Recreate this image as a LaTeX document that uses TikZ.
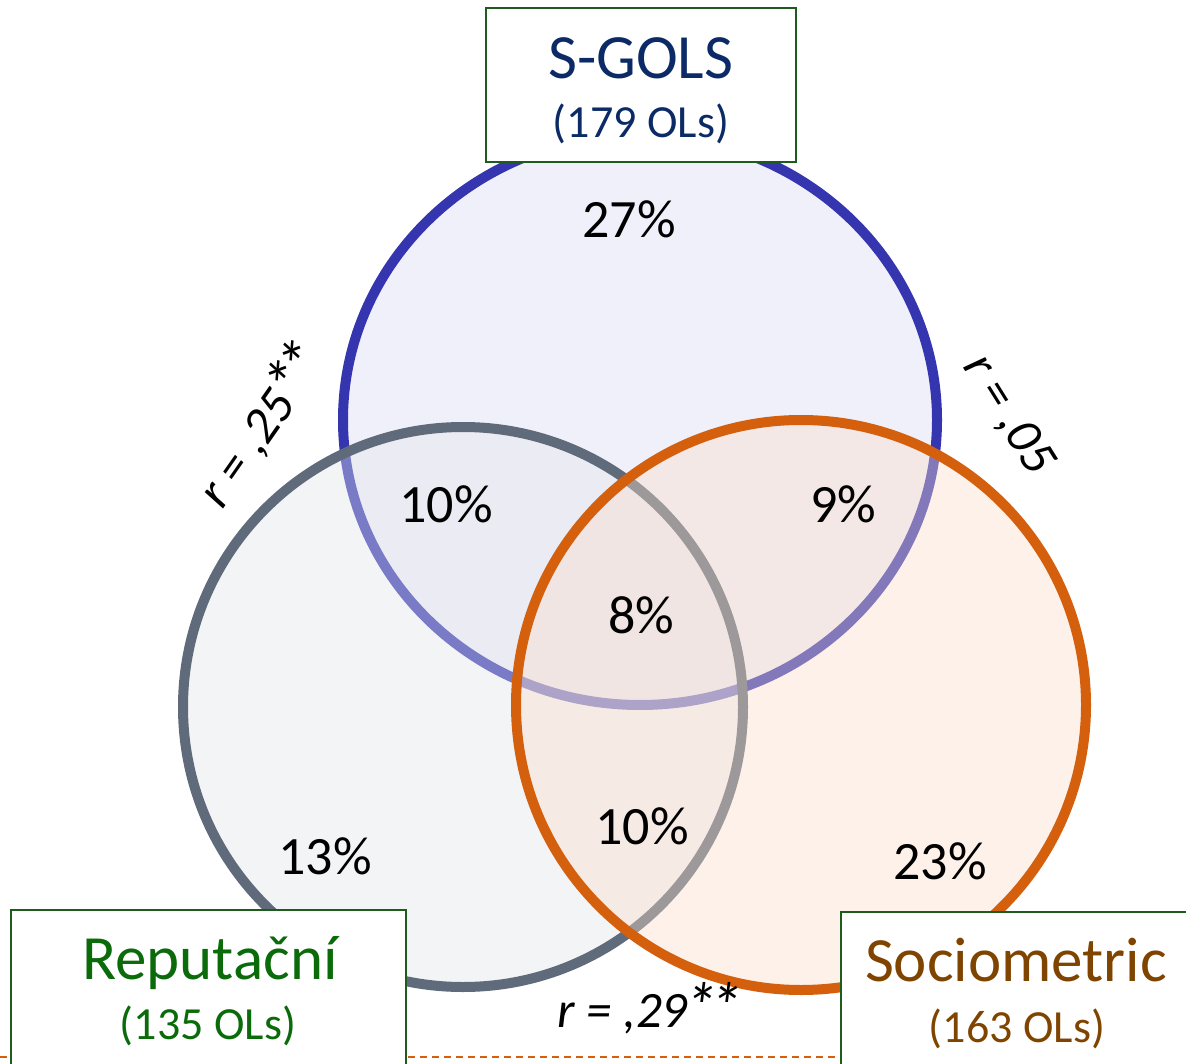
\documentclass[tikz,border=0pt]{standalone}
\usepackage{fontspec}
\usepackage{graphicx}
\setmainfont{Carlito}
\definecolor{bluedraw}{HTML}{3535B0}
\definecolor{bluefill}{HTML}{F0F0FA}
\definecolor{graydraw}{HTML}{5F6B7B}
\definecolor{grayfill}{HTML}{E2E5EA}
\definecolor{orangedraw}{HTML}{D4600E}
\definecolor{orangefill}{HTML}{FADECA}
\definecolor{navytext}{HTML}{0B2A66}
\definecolor{greentext}{HTML}{0B6B0B}
\definecolor{browntext}{HTML}{7F4500}
\definecolor{boxgreen}{HTML}{1D5C1D}
\newcommand{\titlefnt}{\fontsize{63}{68}\selectfont}
\newcommand{\subfnt}{\fontsize{46}{50}\selectfont}
\newcommand{\pctfnt}{\fontsize{54}{58}\selectfont}
\newcommand{\rfnt}{\fontsize{51}{56}\selectfont\itshape}
\newcommand{\bigast}{\raisebox{-0.04em}{\scalebox{1.3}{*}}}
\newcommand{\twoast}{\kern-0.06em\bigast\kern-0.16em\bigast}
\begin{document}
\begin{tikzpicture}[x=1pt,y=-1pt,
  venn/.style={line width=10pt},
  labelbox/.style={draw=boxgreen, line width=1.6pt, fill=white, rectangle, inner sep=0pt},
  pct/.style={font=\pctfnt, text=black, inner sep=0pt, anchor=base},
  rlab/.style={font=\rfnt, text=black, inner sep=0pt},
  title/.style={font=\titlefnt, inner sep=0pt, anchor=base},
  sub/.style={font=\subfnt, inner sep=0pt, anchor=base}]
\useasboundingbox (0,0) rectangle (1186,1064);
\fill[white] (0,0) rectangle (1186,1064);
\begin{scope}
\clip (0,0) rectangle (1186,1064);
% dashed baseline
\coordinate (dl) at (0,1057);
\coordinate (dr) at (1186,1057);
\draw[orangedraw, line width=1.4pt, dash pattern=on 7pt off 5pt] (dl) -- (dr);
% circles
\draw[venn, draw=bluedraw, fill=bluefill] (640,420) ellipse [x radius=297, y radius=285];
\draw[venn, draw=graydraw, fill=grayfill, fill opacity=0.4] (463,707) circle (280);
\draw[venn, draw=orangedraw, fill=orangefill, fill opacity=0.4] (801,705) circle (285);
% boxes
\node[labelbox, minimum width=310pt, minimum height=154pt] (sgolsbox) at (641,85) {};
\node[labelbox, minimum width=395pt, minimum height=180pt] (repbox) at (208.5,1000) {};
\node[labelbox, minimum width=360pt, minimum height=180pt] (socbox) at (1021,1002) {};
\end{scope}
% box texts
\node[title, text=navytext] (sgols) at (641,79) {S-GOLS};
\node[sub, text=navytext] (sgolsn) at (641,138) {(179 OLs)};
\node[title, text=greentext] (rep) at (210,979) {Reputační};
\node[sub, text=greentext] (repn) at (208,1039) {(135 OLs)};
\node[title, text=browntext] (soc) at (1016,981) {Sociometric};
\node[sub, text=browntext] (socn) at (1017,1042) {(163 OLs)};
% percentages
\node[pct] (p27) at (629,238) {27\%};
\node[pct] (p10a) at (446,522) {10\%};
\node[pct] (p9) at (843,522) {9\%};
\node[pct] (p8) at (641,633) {8\%};
\node[pct] (p13) at (325,874) {13\%};
\node[pct] (p10b) at (642,844) {10\%};
\node[pct] (p23) at (940,879) {23\%};
% correlations
\node[rlab, rotate=55] (r25) at (260,424) {r = ,25\twoast};
\node[rlab, rotate=-58] (r05) at (1008,415) {r = ,05};
\node[rlab, anchor=base] (r29) at (650,1027) {r = ,29\twoast};
\end{tikzpicture}
\end{document}
